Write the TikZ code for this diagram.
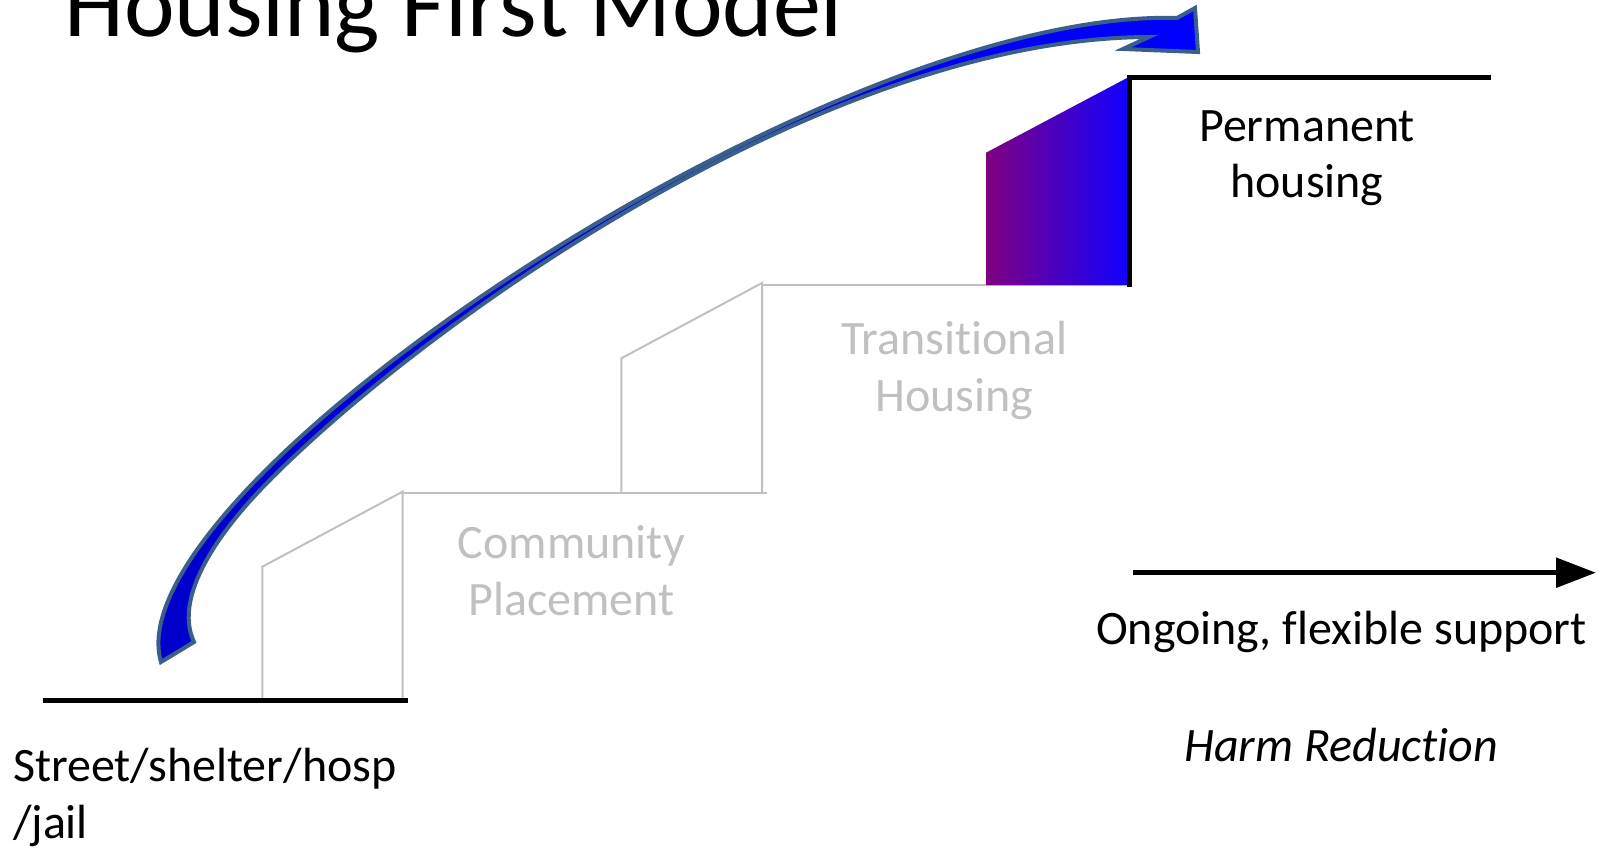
\documentclass[tikz,border=0pt]{standalone}
\usepackage{fontspec}
\setmainfont{Carlito}[Ligatures=NoCommon]
\usetikzlibrary{arrows.meta}
\definecolor{stepgray}{RGB}{192,192,192}
\definecolor{arrowedge}{RGB}{58,95,139}
\definecolor{arrowlow}{RGB}{0,0,200}
\definecolor{arrowhigh}{RGB}{0,0,255}
\definecolor{blockleft}{RGB}{128,0,128}
\definecolor{blockright}{RGB}{18,0,255}
\begin{document}
\begin{tikzpicture}[x=1pt,y=-1pt,
  lbl/.style={inner sep=0pt, outer sep=0pt, anchor=base, font=\fontsize{48}{58}\selectfont},
  graylbl/.style={lbl, text=stepgray},
  stepline/.style={draw=stepgray, line width=2pt},
  levelline/.style={draw=black, line width=5pt},
  bigarrow/.style={draw=arrowedge, line width=4pt, left color=arrowlow, right color=arrowhigh},
  supportarrow/.style={draw=black, line width=5.5pt, -{Triangle[length=40pt 0 0, width=29pt 0 0]}},
]
\useasboundingbox (0,0) rectangle (1608,849);
\clip (0,0) rectangle (1608,849);

% title
\node[inner sep=0pt, anchor=base west, font=\fontsize{96}{115}\selectfont] (title) at (64,36) {Housing First Model};

% grey steps
\draw[stepline] (262.3,700) -- (262.3,566.7) -- (402.5,491.7) -- (402.5,700);
\draw[stepline] (402.5,492.5) -- (767,492.5);
\draw[stepline] (621.3,492.5) -- (621.3,358.3) -- (762,283) -- (762,492.5);
\draw[stepline] (762,285) -- (1127,285);

% purple block
\path[left color=blockleft, right color=blockright] (986,285) -- (986,152.7) -- (1127,78) -- (1127,285) -- cycle;

% black levels
\draw[levelline] (43,700) -- (408,700);
\draw[levelline] (1129.7,287) -- (1129.7,77.5) -- (1491,77.5);

% labels
\node[lbl] (perm1) at (1307,141) {Permanent};
\node[lbl] (perm2) at (1307,197.7) {housing};
\node[graylbl] (trans1) at (954.3,354.3) {Transi\kern0pt tional};
\node[graylbl] (trans2) at (954.3,411) {Housing};
\node[graylbl] (comm1) at (571.4,558.6) {Community};
\node[graylbl] (comm2) at (571.4,615) {Placement};
\node[lbl, anchor=base west] (street1) at (13,781.7) {Street/shelter/hosp};
\node[lbl, anchor=base west] (street2) at (13,838.3) {/jail};
\node[lbl] (support) at (1341.5,644) {Ongoing, f\kern0pt lexible support};
\node[lbl, font=\fontsize{48}{58}\selectfont\itshape] (harm) at (1341.2,761) {Harm Reduction};

% support arrow
\coordinate (supstart) at (1133,572.7);
\coordinate (supend) at (1596,572.7);
\draw[supportarrow] (supstart) -- (supend);

% big curved arrow
\coordinate (tailout) at (161,662);
\coordinate (notchup) at (1177,18);
\coordinate (barbup) at (1195,8);
\coordinate (tip) at (1198,52);
\coordinate (barblow) at (1123,49);
\coordinate (notchlow) at (1149,37);
\coordinate (innermid) at (265,485);
\coordinate (tailin) at (194,642);
\path[bigarrow]
 (tailout) .. controls (110,490) and (827,7.5) .. (notchup)
 -- (barbup) -- (tip) -- (barblow) -- (notchlow)
 .. controls (822,38) and (417,329) .. (innermid)
 .. controls (223,528) and (172,595) .. (tailin)
 -- cycle;
\end{tikzpicture}
\end{document}
